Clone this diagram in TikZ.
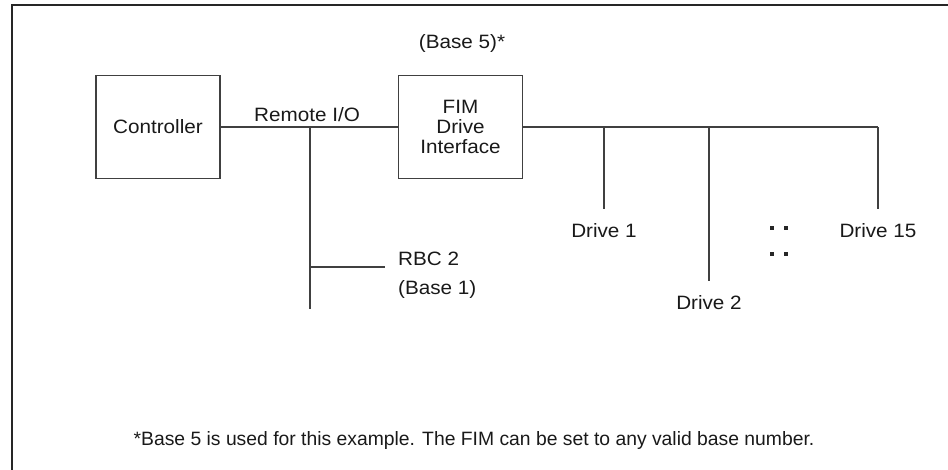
\documentclass[tikz,border=0pt]{standalone}
\usepackage{fontspec}
\setmainfont{Liberation Sans}
\newfontfamily\labelfont{Liberation Sans}[FakeStretch=1.07]
\usepackage{xcolor}
\usetikzlibrary{positioning}

\begin{document}
\begin{tikzpicture}[x=0.02cm,y=-0.02cm,
  every node/.style={font=\labelfont\fontsize{11}{12}\selectfont,text=black!90},
  wire/.style={draw=black!75,line width=0.7pt},
  box/.style={draw=black!75,line width=0.7pt,minimum width=2.48cm,minimum height=2.06cm,inner sep=0pt},
  dot/.style={fill=black!85,minimum size=2.6pt,inner sep=0pt}]
\useasboundingbox (0,0) rectangle (948,470);
% frame
\draw[black!85,line width=1.3pt] (12,470) -- (12,5) -- (948,5);

% boxes
\node[box] (ctrl) at (158,127) {Controller};
\node[box,align=center,font=\labelfont\fontsize{11}{11.3}\selectfont] (fim) at (460.5,127) {FIM\\Drive\\Interface};
\node (base5) at (462,43) {(Base 5)*};

% remote I/O link
\node (rio) at (307,115) {Remote I/O};
\draw[wire] (ctrl.east) -- (fim.west);
\coordinate (tap) at (310,127);
\coordinate (tapend) at (310,309);
\coordinate (rbcjoin) at (310,267);
\node[anchor=west,align=left,font=\labelfont\fontsize{11}{16.5}\selectfont] (rbc) at (392,275) {RBC 2\\(Base 1)};
\draw[wire] (tap) -- (tapend);
\draw[wire] (rbcjoin) -- ([xshift=-4pt]rbc.west |- rbcjoin);

% drive line
\node (d1) at (604,231) {Drive 1};
\node (d2) at (709,303) {Drive 2};
\node (d15) at (878,231) {Drive 15};
\coordinate (busend) at (878,127);
\draw[wire] (fim.east) -- (busend);
\draw[wire,line width=1.1pt] (760,127) -- (804,127);
\foreach \d in {d1,d2,d15}
  \draw[wire,shorten >=5pt] (\d |- busend) -- (\d.north);

% more drives
\foreach \x/\y [count=\i] in {772/228,786/228,772/254,786/254}
  \node[dot] (dot\i) at (\x,\y) {};

% footnote
\node[font=\fontsize{11}{12}\selectfont] (note) at (474,441) {*Base 5 is used for this example. The FIM can be set to any valid base number.};
\end{tikzpicture}
\end{document}
